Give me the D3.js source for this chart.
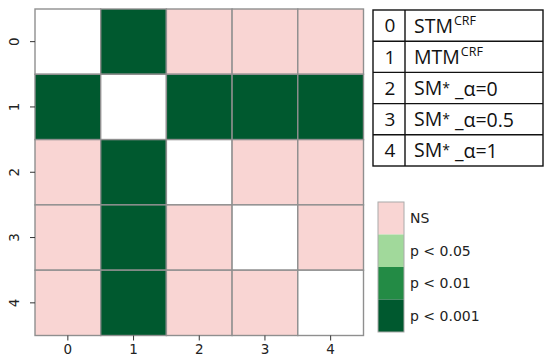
<!DOCTYPE html>
<html>
<head>
<meta charset="utf-8">
<script src="https://cdn.jsdelivr.net/npm/d3@7"></script>
<style>
  body { margin: 0; background: #fff; }
  svg { display: block; }
</style>
</head>
<body>
<script>
// model indices and their names
const models = [0, 1, 2, 3, 4];
const modelNames = ["STM", "MTM", "SM", "SM", "SM"];
const modelSup = ["CRF", "CRF", "", "", ""];
const modelAlpha = [null, null, "0", "0.5", "1"];

// significance level per cell, -1 = diagonal (blank)
const levels = [
  [-1, 3, 0, 0, 0],
  [3, -1, 3, 3, 3],
  [0, 3, -1, 0, 0],
  [0, 3, 0, -1, 0],
  [0, 3, 0, 0, -1]
];

const legendLabels = ["NS", "p < 0.05", "p < 0.01", "p < 0.001"];
const legendColors = ["#f9d5d3", "#a1d99b", "#238b45", "#00592f"];

const width = 550, height = 364;

const svg = d3.select("body").append("svg")
  .attr("width", width)
  .attr("height", height);

const x = d3.scaleBand().domain(models).range([35, 363.5]);
const y = d3.scaleBand().domain(models).range([9, 335.5]);

const color = d3.scaleOrdinal([0, 1, 2, 3], legendColors).unknown("#ffffff");

const cells = [];
levels.forEach((row, i) => row.forEach((v, j) => cells.push({ row: i, col: j, v })));

svg.append("g")
  .selectAll("rect")
  .data(cells)
  .join("rect")
  .attr("x", d => x(d.col))
  .attr("y", d => y(d.row))
  .attr("width", x.bandwidth())
  .attr("height", y.bandwidth())
  .attr("fill", d => color(d.v))
  .attr("stroke", "#8f8f8f")
  .attr("stroke-width", 1.4);

// axes
const xAxis = svg.append("g")
  .attr("transform", `translate(0,${y.range()[1]})`)
  .call(d3.axisBottom(x).tickSize(5).tickPadding(4));
const yAxis = svg.append("g")
  .attr("transform", `translate(${x.range()[0]},0)`)
  .call(d3.axisLeft(y).tickSize(5).tickPadding(4));

[xAxis, yAxis].forEach(a => {
  a.select(".domain").remove();
  a.selectAll("line").attr("stroke", "#333");
  a.selectAll("text")
    .attr("font-family", "DejaVu Sans")
    .attr("font-size", 13.5)
    .attr("fill", "#222");
});
// y labels read bottom-to-top
yAxis.selectAll(".tick text")
  .attr("text-anchor", "middle")
  .attr("transform", "rotate(-90)")
  .attr("x", 0)
  .attr("y", -21)
  .attr("dy", "0.35em");

// lookup table on the right
const tx = d3.scaleLinear().domain([0, 1]).range([373, 543]);
const ty = d3.scaleBand().domain(models).range([10, 166]);
const divider = 405;

const table = svg.append("g").attr("font-family", "Open Sans, Liberation Sans, sans-serif");
table.append("rect")
  .attr("x", tx(0)).attr("y", ty.range()[0])
  .attr("width", tx(1) - tx(0)).attr("height", ty.range()[1] - ty.range()[0])
  .attr("fill", "none").attr("stroke", "#111").attr("stroke-width", 1.4);
table.append("line")
  .attr("x1", divider).attr("x2", divider)
  .attr("y1", ty.range()[0]).attr("y2", ty.range()[1])
  .attr("stroke", "#111").attr("stroke-width", 1.4);
table.selectAll("line.row")
  .data(models.slice(1))
  .join("line")
  .attr("class", "row")
  .attr("x1", tx(0)).attr("x2", tx(1))
  .attr("y1", d => ty(d)).attr("y2", d => ty(d))
  .attr("stroke", "#111").attr("stroke-width", 1.4);

table.selectAll("text.idx")
  .data(models)
  .join("text")
  .attr("class", "idx")
  .attr("x", (tx(0) + divider) / 2 + 1)
  .attr("y", d => ty(d) + ty.bandwidth() / 2)
  .attr("dy", "0.36em")
  .attr("text-anchor", "middle")
  .attr("font-size", 19)
  .attr("fill", "#111")
  .text(d => d);

const nameText = table.selectAll("text.name")
  .data(models)
  .join("text")
  .attr("class", "name")
  .attr("x", divider + 9)
  .attr("y", d => ty(d) + ty.bandwidth() / 2)
  .attr("dy", "0.36em")
  .attr("font-size", 19.5)
  .attr("fill", "#111");

nameText.append("tspan").text(d => modelNames[d]);
nameText.filter(d => modelSup[d])
  .append("tspan")
  .attr("font-size", 12.5)
  .attr("dx", 1)
  .attr("dy", "-0.6em")
  .text(d => modelSup[d]);
nameText.filter(d => modelAlpha[d] !== null)
  .append("tspan")
  .attr("font-size", 14)
  .attr("dy", "-0.15em")
  .text("*");
nameText.filter(d => modelAlpha[d] !== null)
  .append("tspan")
  .attr("dy", "0.15em")
  .attr("dx", 5)
  .text(d => "_\u03b1=" + modelAlpha[d]);

// colour legend
const ly = d3.scaleBand().domain(legendLabels).range([202, 332]);
const legend = svg.append("g");
legend.selectAll("rect")
  .data(legendLabels)
  .join("rect")
  .attr("x", 378)
  .attr("y", d => ly(d))
  .attr("width", 26)
  .attr("height", ly.bandwidth())
  .attr("fill", (d, i) => legendColors[i]);
legend.append("rect")
  .attr("x", 378).attr("y", ly.range()[0])
  .attr("width", 26).attr("height", ly.range()[1] - ly.range()[0])
  .attr("fill", "none").attr("stroke", "#aaa").attr("stroke-width", 1);
legend.selectAll("text")
  .data(legendLabels)
  .join("text")
  .attr("x", 410)
  .attr("y", d => ly(d) + ly.bandwidth() / 2)
  .attr("dy", "0.35em")
  .attr("font-family", "DejaVu Sans")
  .attr("font-size", 14)
  .attr("fill", "#222")
  .text(d => d);
</script>
</body>
</html>
